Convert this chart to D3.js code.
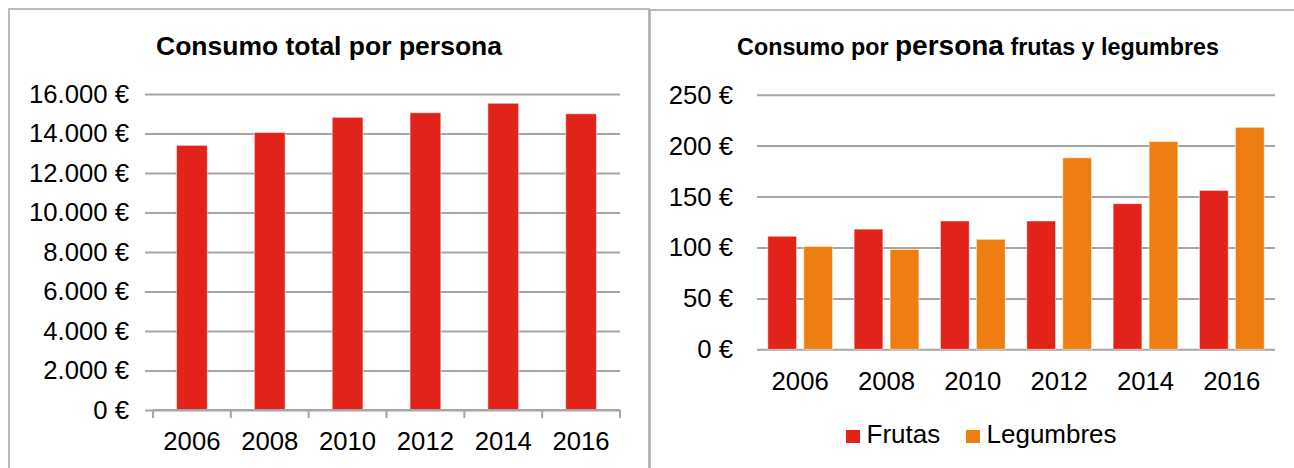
<!DOCTYPE html>
<html>
<head>
<meta charset="utf-8">
<script src="https://cdn.jsdelivr.net/npm/d3@7"></script>
<style>
  body { margin: 0; background: #fff; }
  svg { display: block; font-family: "Liberation Sans", Arial, sans-serif; }
  .grid line { stroke: #a6a6a6; stroke-width: 2; }
  .grid .domain { display: none; }
</style>
</head>
<body>
<svg width="1294" height="468"></svg>
<script>
// datos
var years = ["2006", "2008", "2010", "2012", "2014", "2016"];
var totalConsumo = [13400, 14050, 14820, 15050, 15530, 15000];
var frutas = [111, 118, 126, 126, 143, 156];
var legumbres = [101, 98, 108, 188, 204, 218];
var series = ["Frutas", "Legumbres"];
var leftTicks = [0, 2000, 4000, 6000, 8000, 10000, 12000, 14000, 16000];
var rightTicks = [0, 50, 100, 150, 200, 250];

var red = "#e2231a",
    orange = "#ee7d12";

var svg = d3.select("svg");

var euro = function(d) {
  return d3.format(",")(d).replace(/,/g, ".") + " €";
};

// marcos
svg.append("rect")
    .attr("x", 9).attr("y", 9)
    .attr("width", 640).attr("height", 470)
    .attr("fill", "none")
    .attr("stroke", "#a6a6a6")
    .attr("stroke-width", 1.5);

svg.append("rect")
    .attr("x", 650).attr("y", 10)
    .attr("width", 660).attr("height", 470)
    .attr("fill", "none")
    .attr("stroke", "#a6a6a6")
    .attr("stroke-width", 1.5);

// ---- grafico izquierdo ----
var x1 = d3.scaleBand()
    .domain(years)
    .range([153, 620])
    .paddingInner(0.605)
    .paddingOuter(0.3025);

var xTicks1 = d3.scaleBand().domain(years).range([153, 620]);

var y1 = d3.scaleLinear()
    .domain([0, 16000])
    .range([410, 94]);

var g1 = svg.append("g");

g1.append("g")
    .attr("class", "grid")
    .attr("transform", "translate(153,0)")
    .call(d3.axisLeft(y1).tickValues(leftTicks).tickSize(8).tickFormat(""))
  .selectAll(".tick line")
    .attr("x2", 620 - 153)
    .attr("x1", -8);

g1.append("g")
    .attr("class", "grid")
    .attr("transform", "translate(153,0)")
    .call(d3.axisLeft(y1).tickValues(leftTicks).tickSize(0).tickFormat(""))
  .select(".domain")
    .style("display", null)
    .attr("stroke", "#a6a6a6")
    .attr("stroke-width", 2)
    .attr("d", "M0," + y1(16000) + "V" + (y1(0) + 8));

g1.selectAll(".ylab")
  .data(leftTicks)
  .enter().append("text")
    .attr("x", 129)
    .attr("y", function(d) { return y1(d); })
    .attr("dy", "0.35em")
    .attr("text-anchor", "end")
    .attr("font-size", 25.7)
    .attr("fill", "#000")
    .text(euro);

g1.selectAll(".bar")
  .data(totalConsumo)
  .enter().append("rect")
    .attr("x", function(d, i) { return x1(years[i]); })
    .attr("y", function(d) { return y1(d); })
    .attr("width", x1.bandwidth())
    .attr("height", function(d) { return y1(0) - y1(d); })
    .attr("fill", red)
    .attr("stroke", "rgba(255,255,255,0.5)")
    .attr("stroke-width", 1);

// eje x con marcas entre categorias
g1.append("line")
    .attr("x1", 153).attr("x2", 620)
    .attr("y1", y1(0)).attr("y2", y1(0))
    .attr("stroke", "#a6a6a6").attr("stroke-width", 2);

g1.selectAll(".xtick")
  .data(years.concat(["end"]))
  .enter().append("line")
    .attr("x1", function(d, i) { return i < years.length ? xTicks1(d) : 620; })
    .attr("x2", function(d, i) { return i < years.length ? xTicks1(d) : 620; })
    .attr("y1", y1(0))
    .attr("y2", y1(0) + 8)
    .attr("stroke", "#a6a6a6")
    .attr("stroke-width", 2);

g1.selectAll(".xlab")
  .data(years)
  .enter().append("text")
    .attr("x", function(d) { return x1(d) + x1.bandwidth() / 2; })
    .attr("y", 450)
    .attr("text-anchor", "middle")
    .attr("font-size", 25.7)
    .attr("fill", "#000")
    .text(function(d) { return d; });

g1.append("text")
    .attr("x", 329)
    .attr("y", 55)
    .attr("text-anchor", "middle")
    .attr("font-size", 26.5)
    .attr("font-weight", "bold")
    .attr("fill", "#000")
    .text("Consumo total por persona");

// ---- grafico derecho ----
var x2 = d3.scaleBand()
    .domain(years)
    .range([757, 1275])
    .paddingInner(0.25)
    .paddingOuter(0.125);

var xs = d3.scaleBand()
    .domain(series)
    .range([0, x2.bandwidth()])
    .paddingInner(0.2);

var y2 = d3.scaleLinear()
    .domain([0, 250])
    .range([349.3, 94.7]);

var color = d3.scaleOrdinal().domain(series).range([red, orange]);

var g2 = svg.append("g");

g2.append("g")
    .attr("class", "grid")
    .attr("transform", "translate(757,0)")
    .call(d3.axisRight(y2).tickValues(rightTicks).tickSize(1275 - 757).tickFormat(""))
  .selectAll(".tick line")
    .attr("stroke", "#8c8c8c")
    .attr("stroke-width", 1.5);

g2.selectAll(".ylab")
  .data(rightTicks)
  .enter().append("text")
    .attr("x", 733)
    .attr("y", function(d) { return y2(d); })
    .attr("dy", "0.35em")
    .attr("text-anchor", "end")
    .attr("font-size", 25.7)
    .attr("fill", "#000")
    .text(euro);

var rows = years.map(function(y, i) {
  return { year: y, Frutas: frutas[i], Legumbres: legumbres[i] };
});

g2.selectAll(".grp")
  .data(rows)
  .enter().append("g")
    .attr("transform", function(d) { return "translate(" + x2(d.year) + ",0)"; })
  .selectAll("rect")
  .data(function(d) { return series.map(function(s) { return { key: s, value: d[s] }; }); })
  .enter().append("rect")
    .attr("x", function(d) { return xs(d.key); })
    .attr("y", function(d) { return y2(d.value); })
    .attr("width", xs.bandwidth())
    .attr("height", function(d) { return y2(0) - y2(d.value); })
    .attr("fill", function(d) { return color(d.key); })
    .attr("stroke", "rgba(255,255,255,0.5)")
    .attr("stroke-width", 1);

g2.selectAll(".xlab")
  .data(years)
  .enter().append("text")
    .attr("x", function(d) { return x2(d) + x2.bandwidth() / 2; })
    .attr("y", 390)
    .attr("text-anchor", "middle")
    .attr("font-size", 25.7)
    .attr("fill", "#000")
    .text(function(d) { return d; });

var title2 = g2.append("text")
    .attr("x", 978)
    .attr("y", 55)
    .attr("text-anchor", "middle")
    .attr("font-weight", "bold")
    .attr("fill", "#000");
title2.append("tspan").attr("font-size", 23.3).text("Consumo por ");
title2.append("tspan").attr("font-size", 28).text("persona");
title2.append("tspan").attr("font-size", 23.3).text(" frutas y legumbres");

// leyenda
var legendX = [846, 966];
var legend = g2.selectAll(".legend")
  .data(series)
  .enter().append("g")
    .attr("transform", function(d, i) { return "translate(" + legendX[i] + ",430)"; });

legend.append("rect")
    .attr("width", 14)
    .attr("height", 13)
    .attr("fill", function(d) { return color(d); });

legend.append("text")
    .attr("x", 20.5)
    .attr("y", 13)
    .attr("font-size", 26)
    .attr("fill", "#000")
    .text(function(d) { return d; });
</script>
</body>
</html>
